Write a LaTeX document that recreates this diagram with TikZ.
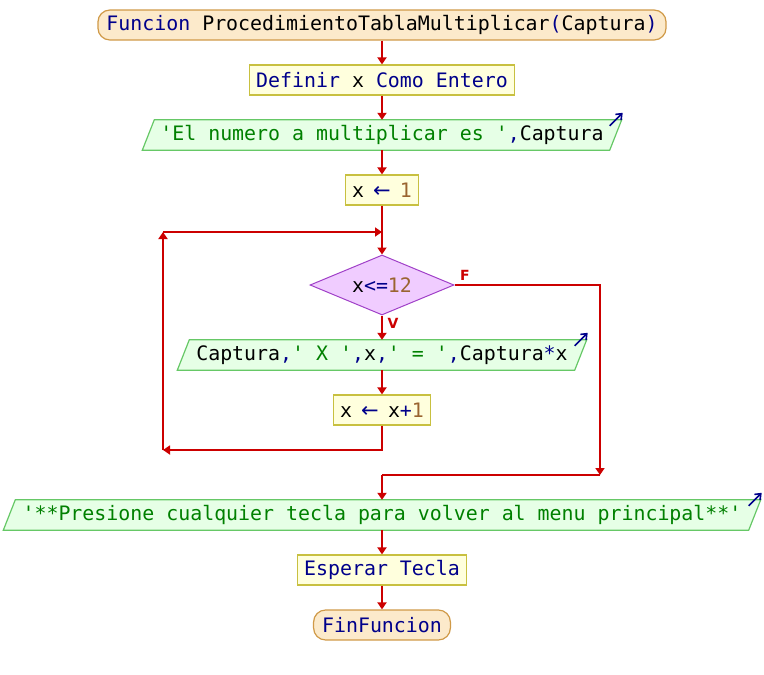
\documentclass[tikz,border=0pt]{standalone}
\usepackage{fontspec}
\setmonofont{DejaVu Sans Mono}
\newfontfamily\lblfont{DejaVu Sans}
\usetikzlibrary{shapes.geometric,arrows.meta,backgrounds}
\definecolor{kwc}{HTML}{00008B}
\definecolor{strc}{HTML}{008000}
\definecolor{numc}{HTML}{9A6430}
\definecolor{flowc}{HTML}{CC0000}
\definecolor{procf}{HTML}{FFFFDD}
\definecolor{procb}{HTML}{C8C040}
\definecolor{termf}{HTML}{FCEACB}
\definecolor{termb}{HTML}{D09A48}
\definecolor{iof}{HTML}{E6FFE6}
\definecolor{iob}{HTML}{66C866}
\definecolor{diaf}{HTML}{F0CCFF}
\definecolor{diab}{HTML}{A040C8}
\newcommand\kwd[1]{\textcolor{kwc}{#1}}
\newcommand\strg[1]{\textcolor{strc}{#1}}
\newcommand\numb[1]{\textcolor{numc}{#1}}
\newcommand\asig{\makebox[12pt][c]{\textcolor{kwc}{\lblfont\fontsize{21}{24}\selectfont ←}}}
\begin{document}
\begin{tikzpicture}[x=1pt,y=-1pt,
  every node/.style={font=\ttfamily\fontsize{19.9}{24}\selectfont, text=black},
  proc/.style={draw=procb, fill=procf, line width=1.2pt, inner xsep=6.5pt, inner ysep=0pt, minimum height=30pt},
  term/.style={draw=termb, fill=termf, line width=1.2pt, rounded corners=12pt, inner xsep=8.5pt, inner ysep=0pt, minimum height=30pt},
  iobox/.style={inner sep=0pt, minimum height=30pt},
  iodraw/.style={draw=iob, fill=iof, line width=1.2pt},
  icon/.style={draw=kwc, line width=1.6pt, -{Straight Barb[length=5pt,width=8pt]}},
  dec/.style={diamond, draw=diab, fill=diaf, line width=1pt, inner sep=0pt, minimum width=144pt, minimum height=60pt, aspect=2.4},
  flow/.style={draw=flowc, line width=2pt, -{Triangle[length=7pt,width=9pt]}},
  plain/.style={draw=flowc, line width=2pt},
  lbl/.style={font=\lblfont\bfseries\fontsize{14}{16}\selectfont, text=flowc}
]
\useasboundingbox (0,0) rectangle (764,675);

\node[term] (start) at (382,25) {\kwd{Funcion} ProcedimientoTablaMultiplicar\kwd{(}Captura\kwd{)}};
\node[proc] (def) at (382,80) {\kwd{Definir} x \kwd{Como Entero}};
\node[iobox, minimum width=467pt] (out1) at (382,135) {\strg{'El numero a multiplicar es '}\kwd{,}Captura};
\node[proc] (init) at (382,190) {x \asig{} \numb{1}};
\node[dec] (dia) at (382,285) {x\kwd{<=}\numb{12}};
\node[iobox, minimum width=397pt] (out2) at (382,355) {Captura\kwd{,}\strg{' X '}\kwd{,}x\kwd{,}\strg{' = '}\kwd{,}Captura\kwd{*}x};
\node[proc] (xinc) at (382,410) {x \asig{} x\kwd{+}\numb{1}};
\node[iobox, minimum width=745pt] (out3) at (382,515) {\strg{'**Presione cualquier tecla para volver al menu principal**'}};
\node[proc] (esp) at (382,570) {\kwd{Esperar Tecla}};
\node[term] (fin) at (382,625) {\kwd{FinFuncion}};

\node[lbl] (lf) at (465,275) {F};
\node[lbl] (lv) at (393,323) {V};

\begin{scope}[on background layer]
\foreach \n in {out1,out2,out3}{
  \draw[iodraw] ([xshift=6pt]\n.north west) -- ([xshift=6pt]\n.north east) -- ([xshift=-6pt]\n.south east) -- ([xshift=-6pt]\n.south west) -- cycle;
}
\end{scope}
\foreach \n in {out1,out2,out3}{
  \draw[icon] ([xshift=-6pt,yshift=-6pt]\n.north east) -- ([xshift=7pt,yshift=7pt]\n.north east);
}

\coordinate (lb) at (382,450);
\coordinate (ll) at (163,450);
\coordinate (lt) at (163,232);
\coordinate (lj) at (382,232);
\coordinate (fr) at (600,475);
\coordinate (fj) at (382,475);

\draw[flow] (start.south) -- (def.north);
\draw[flow] (def.south) -- (out1.north);
\draw[flow] (out1.south) -- (init.north);
\draw[flow] (init.south) -- (dia.north);
\draw[flow] (dia.south) -- (out2.north);
\draw[flow] (out2.south) -- (xinc.north);
\draw[flow] (xinc.south) |- (ll);
\draw[flow] (ll) -- (lt);
\draw[flow] (lt) -- (lj);
\draw[flow] (dia.east) -| (fr);
\draw[plain] (fr) -- (fj);
\draw[flow] (fj) -- (out3.north);
\draw[flow] (out3.south) -- (esp.north);
\draw[flow] (esp.south) -- (fin.north);
\end{tikzpicture}
\end{document}
